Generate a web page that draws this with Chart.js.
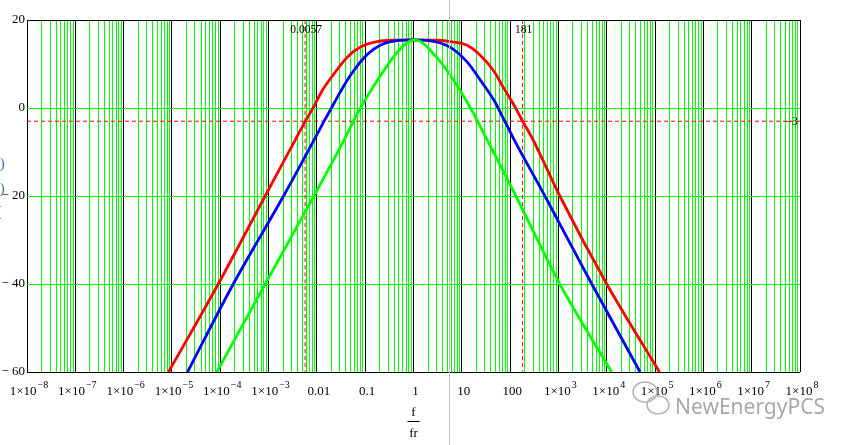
<!DOCTYPE html>
<html>
<head>
<meta charset="utf-8">
<script src="https://cdn.jsdelivr.net/npm/chart.js"></script>
<style>
  body { margin: 0; background: #fff; }
  #wrap { width: 851px; height: 445px; position: relative; }
</style>
</head>
<body>
<div id="wrap"><canvas id="myChart"></canvas></div>
<script>
// data (f/fr, gain in dB)
const redF  = [8.5e-6, 9.1e-5, 8.5e-4, 3.8e-3, 5.7e-3, 8.5e-3, 0.0135, 0.022, 0.042, 0.078, 0.148, 0.32, 1, 3.1, 5.8, 12.6, 24, 46, 72, 117, 181, 282, 1070, 10000, 123000];
const redDb = [-60, -40, -20, -6.7, -3.1, 0.2, 4.3, 7.6, 11.5, 13.8, 14.9, 15.4, 15.5, 15.4, 15.1, 14.3, 12, 8.4, 4.7, 0.9, -3, -6.7, -20, -40, -60];

const blueF  = [2.1e-5, 1.86e-4, 2.04e-3, 9.1e-3, 0.0141, 0.020, 0.030, 0.048, 0.091, 0.148, 0.24, 0.45, 1, 3.0, 6.6, 12.6, 24, 46, 72, 117, 525, 4900, 49000];
const blueDb = [-60, -40, -20, -6.9, -3, 0, 3.5, 7.2, 11.2, 13.3, 14.6, 15.3, 15.5, 15.0, 13.4, 10.6, 6.4, 1.8, -2.3, -6.9, -20, -40, -60];

const greenF  = [8.5e-5, 8.5e-4, 8.7e-3, 0.038, 0.056, 0.078, 0.135, 0.24, 0.38, 0.575, 0.78, 1, 1.35, 2.2, 4.2, 9.1, 17.4, 28, 38, 126, 1070, 12600];
const greenDb = [-60, -40, -20, -6.9, -3.2, -0.2, 4.2, 8.4, 11.5, 13.8, 15.0, 15.5, 15.2, 13.2, 9.6, 4.1, -1.2, -5.6, -8.4, -19.6, -40, -60];

// markers
const markerF = [0.0057, 181];
const markerLabels = ['0.0057', '181'];
const markerDb = -3;

// axes
const xDecades = [-8, -7, -6, -5, -4, -3, -2, -1, 0, 1, 2, 3, 4, 5, 6, 7, 8];
const xTickBase = ['1×10', '1×10', '1×10', '1×10', '1×10', '1×10', '0.01', '0.1', '1', '10', '100', '1×10', '1×10', '1×10', '1×10', '1×10', '1×10'];
const xTickExp  = ['−8', '−7', '−6', '−5', '−4', '−3', '', '', '', '', '', '3', '4', '5', '6', '7', '8'];
const yTicks = [20, 0, -20, -40, -60];

const GREEN = '#00ff00';
const SERIF = '"Liberation Serif", "Times New Roman", serif';

function pts(xs, ys) {
    return xs.map((x, i) => ({x: x, y: ys[i]}));
}

// decade + minor (2..9) grid positions
const xGrid = [];
xDecades.forEach(n => {
    for (let k = 1; k <= 9; k++) {
        if (n === 8 && k > 1) break;
        xGrid.push(parseFloat(k + 'e' + n));
    }
});
function decadeIndex(v) {
    const l = Math.log10(v);
    const r = Math.round(l);
    return Math.abs(l - r) < 1e-6 ? xDecades.indexOf(r) : -1;
}

const extras = {
    id: 'extras',
    afterDraw(chart) {
        const c = chart.ctx;
        const xs = chart.scales.x, ys = chart.scales.y;
        const a = chart.chartArea;
        c.save();
        c.fillStyle = '#000';
        c.textBaseline = 'alphabetic';

        // x tick labels with raised exponents
        xDecades.forEach((n, i) => {
            const px = xs.getPixelForValue(parseFloat('1e' + n));
            c.font = '13px ' + SERIF;
            const wb = c.measureText(xTickBase[i]).width;
            c.font = '10px ' + SERIF;
            const we = xTickExp[i] ? c.measureText(xTickExp[i]).width + 1 : 0;
            const x0 = px + 2 - (wb + we) / 2;
            c.textAlign = 'left';
            c.font = '13px ' + SERIF;
            c.fillText(xTickBase[i], x0, 395);
            if (xTickExp[i]) {
                c.font = '10px ' + SERIF;
                c.fillText(xTickExp[i], x0 + wb + 1, 388);
            }
        });

        c.font = '11.5px ' + SERIF;
        c.textAlign = 'center';
        markerF.forEach((f, i) => {
            c.fillText(markerLabels[i], xs.getPixelForValue(f) + 1, a.top + 13);
        });
        c.textAlign = 'right';
        c.textBaseline = 'middle';
        c.font = '12px ' + SERIF;
        c.fillText('\u22123', a.right - 2, ys.getPixelForValue(markerDb) + 1);

        // x axis title as fraction
        const cx = xs.getPixelForValue(1);
        c.font = '13px ' + SERIF;
        c.textAlign = 'center';
        c.textBaseline = 'alphabetic';
        c.fillText('f', cx, 416);
        c.fillText('fr', cx, 437);
        c.fillRect(cx - 6, 421, 12, 1);

        // clipped y axis title
        c.fillStyle = '#3a66b5';
        c.font = '14px ' + SERIF;
        c.textAlign = 'left';
        c.fillText(')', 0, 168);
        c.fillText(')', 0, 193);
        c.fillText('(', -3, 216);

        // grey cursor line
        c.fillStyle = '#c4c4c4';
        c.fillRect(449, 0, 1, 445);

        // watermark
        c.strokeStyle = '#b4b4b4';
        c.lineWidth = 1.5;
        c.beginPath();
        c.ellipse(645, 392, 12, 10, 0, 0, Math.PI * 2);
        c.stroke();
        c.beginPath();
        c.ellipse(658, 405, 11, 9, 0, 0, Math.PI * 2);
        c.stroke();
        c.fillStyle = '#a8a8a8';
        c.font = '21px "Noto Sans", sans-serif';
        c.textAlign = 'left';
        c.fillText('NewEnergyPCS', 675, 414);
        c.restore();
    }
};

const ctx = document.getElementById('myChart').getContext('2d');
const myChart = new Chart(ctx, {
    type: 'scatter',
    data: {
        datasets: [{
            data: pts(greenF, greenDb),
            borderColor: GREEN,
            order: 0
        }, {
            data: pts(blueF, blueDb),
            borderColor: '#0000ff',
            order: 1
        }, {
            data: pts(redF, redDb),
            borderColor: '#ff0000',
            order: 2
        }, {
            data: [{x: markerF[0], y: 20}, {x: markerF[0], y: -60}],
            borderColor: '#ff0000', borderWidth: 1, borderDash: [4, 3], tension: 0,
            order: 3
        }, {
            data: [{x: markerF[1], y: 20}, {x: markerF[1], y: -60}],
            borderColor: '#ff0000', borderWidth: 1, borderDash: [4, 3], tension: 0,
            order: 3
        }, {
            data: [{x: 1e-8, y: markerDb}, {x: 1e8, y: markerDb}],
            borderColor: '#ff0000', borderWidth: 1, borderDash: [4, 3], tension: 0,
            order: 3
        }]
    },
    options: {
        responsive: true,
        maintainAspectRatio: false,
        animation: false,
        showLine: true,
        layout: { padding: { top: 20, right: 51, left: 0, bottom: 0 } },
        elements: {
            point: { radius: 0, hoverRadius: 0 },
            line: { borderWidth: 2.8, cubicInterpolationMode: 'monotone', fill: false }
        },
        scales: {
            x: {
                type: 'logarithmic',
                min: 1e-8,
                max: 1e8,
                afterBuildTicks: (s) => { s.ticks = xGrid.map(v => ({value: v})); },
                afterFit: (s) => { s.height = 73; },
                border: { display: false },
                grid: {
                    drawTicks: false,
                    lineWidth: 1,
                    color: (c) => decadeIndex(c.tick.value) >= 0 ? '#000' : GREEN
                },
                ticks: {
                    autoSkip: false,
                    maxRotation: 0,
                    callback: () => ''
                }
            },
            y: {
                min: -60,
                max: 20,
                afterBuildTicks: (s) => { s.ticks = yTicks.map(v => ({value: v})); },
                afterFit: (s) => { s.width = 27; },
                border: { display: false },
                grid: {
                    drawTicks: false,
                    lineWidth: 1,
                    color: (c) => (c.tick.value === 20 || c.tick.value === -60) ? '#000' : GREEN
                },
                ticks: {
                    padding: 2,
                    color: '#000',
                    font: { family: SERIF, size: 13 },
                    callback: (v) => v < 0 ? '\u2212 ' + (-v) : String(v)
                }
            }
        },
        plugins: {
            legend: { display: false },
            tooltip: { enabled: false }
        }
    },
    plugins: [extras]
});
</script>
</body>
</html>
